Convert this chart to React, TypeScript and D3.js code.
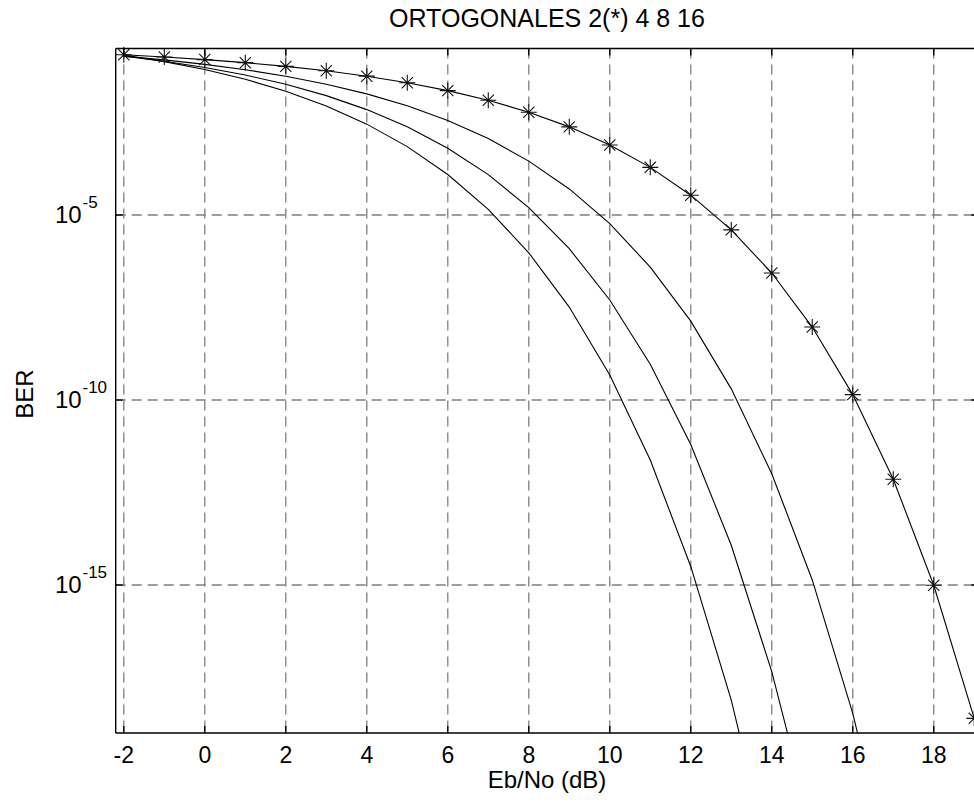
import React from "react";
import * as d3 from "d3";

const TITLE = "ORTOGONALES 2(*) 4 8 16";
const X_LABEL = "Eb/No (dB)";
const Y_LABEL = "BER";

const EBNO = [-2, -1, 0, 1, 2, 3, 4, 5, 6, 7, 8, 9, 10, 11, 12, 13, 14, 15, 16, 17, 18, 19, 20];

const BER_M2 = [2.135e-1, 1.864e-1, 1.587e-1, 1.309e-1, 1.04e-1, 7.89e-2, 5.65e-2, 3.77e-2, 2.3e-2, 1.258e-2, 6.01e-3, 2.41e-3, 7.83e-4, 1.94e-4, 3.43e-5, 3.96e-6, 2.7e-7, 9.36e-9, 1.397e-10, 7.23e-13, 9.84e-16, 2.49e-19, 7.62e-24];
const BER_M4 = [1.961e-1, 1.557e-1, 1.179e-1, 8.45e-2, 5.63e-2, 3.43e-2, 1.875e-2, 8.94e-3, 3.59e-3, 1.16e-3, 2.86e-4, 5.06e-5, 5.82e-6, 3.91e-7, 1.35e-8, 2.0e-10, 1.02e-12, 1.37e-15, 3.4e-19, 1.01e-23];
const BER_M8 = [1.969e-1, 1.432e-1, 9.71e-2, 6.07e-2, 3.41e-2, 1.682e-2, 7.05e-3, 2.415e-3, 6.39e-4, 1.232e-4, 1.586e-5, 1.227e-6, 5.04e-8, 9.29e-10, 6.27e-12, 1.189e-14, 4.58e-18, 2.37e-22];
const BER_M16 = [2.104e-1, 1.4e-1, 8.53e-2, 4.658e-2, 2.213e-2, 8.87e-3, 2.858e-3, 7.04e-4, 1.239e-4, 1.418e-5, 9.51e-7, 3.25e-8, 4.76e-10, 2.4e-12, 3.17e-15, 7.72e-19, 2.25e-23];

const X_TICKS = [-2, 0, 2, 4, 6, 8, 10, 12, 14, 16, 18, 20];
const Y_TICKS = [1e-5, 1e-10, 1e-15];
const Y_TICK_EXP = ["-5", "-10", "-15"];

const W = 974;
const H = 802;
const LEFT = 115.7;
const TOP = 48.5;
const BOTTOM = 733;
const RIGHT = 978.3;
const FONT = "'Liberation Sans', Arial, Helvetica, sans-serif";

export default function App() {
  const x = d3.scaleLinear().domain([-2.2, 19.1]).range([LEFT, RIGHT]);
  const y = d3.scaleLog().domain([1e-19, Math.pow(10, -0.5)]).range([BOTTOM, TOP]);

  const line = d3
    .line<[number, number]>()
    .x((d) => x(d[0]))
    .y((d) => y(d[1]));

  const series = [BER_M2, BER_M4, BER_M8, BER_M16].map((s) =>
    s.map((v, i) => [EBNO[i], v] as [number, number])
  );

  const star = (cx: number, cy: number) => {
    const r = 8;
    const d = 5.6;
    return `M${cx - r},${cy}H${cx + r}M${cx},${cy - r}V${cy + r}M${cx - d},${cy - d}L${cx + d},${cy + d}M${cx - d},${cy + d}L${cx + d},${cy - d}`;
  };

  const xTicks = X_TICKS.filter((t) => x(t) <= W + 20);

  return (
    <svg
      width={W}
      height={H}
      style={{ position: "absolute", left: 0, top: 0, background: "#fff" }}
      fontFamily={FONT}
    >
      <defs>
        <clipPath id="plotclip">
          <rect x={LEFT} y={TOP} width={RIGHT - LEFT} height={BOTTOM - TOP} />
        </clipPath>
      </defs>
      <rect x={0} y={0} width={W} height={H} fill="#fff" />

      {/* grid */}
      <g stroke="#7f7f7f" strokeWidth={1.3} strokeDasharray="10,6" fill="none">
        {xTicks.map((t) => (
          <line key={"gx" + t} x1={x(t)} x2={x(t)} y1={TOP} y2={BOTTOM} />
        ))}
        {Y_TICKS.map((t) => (
          <line key={"gy" + t} x1={LEFT} x2={RIGHT} y1={y(t)} y2={y(t)} />
        ))}
      </g>

      {/* curves */}
      <g clipPath="url(#plotclip)" fill="none" stroke="#000" strokeWidth={1.1}>
        {series.map((s, i) => (
          <path key={"s" + i} d={line(s) || ""} />
        ))}
      </g>

      {/* markers for M=2 */}
      <g fill="none" stroke="#111" strokeWidth={1.1}>
        {series[0]
          .filter((d) => y(d[1]) <= BOTTOM)
          .map((d, i) => (
            <path key={"m" + i} d={star(x(d[0]), y(d[1]))} />
          ))}
      </g>

      {/* axes box */}
      <g stroke="#000" strokeWidth={1.4} fill="none">
        <line x1={LEFT} x2={RIGHT} y1={TOP} y2={TOP} />
        <line x1={LEFT} x2={RIGHT} y1={BOTTOM} y2={BOTTOM} />
        <line x1={LEFT} x2={LEFT} y1={TOP} y2={BOTTOM} />
        <line x1={RIGHT} x2={RIGHT} y1={TOP} y2={BOTTOM} />
        {xTicks.map((t) => (
          <g key={"tx" + t}>
            <line x1={x(t)} x2={x(t)} y1={BOTTOM} y2={BOTTOM - 7} />
            <line x1={x(t)} x2={x(t)} y1={TOP} y2={TOP + 7} />
          </g>
        ))}
        {Y_TICKS.map((t) => (
          <g key={"ty" + t}>
            <line x1={LEFT} x2={LEFT + 7} y1={y(t)} y2={y(t)} />
            <line x1={RIGHT} x2={RIGHT - 7} y1={y(t)} y2={y(t)} />
          </g>
        ))}
      </g>

      {/* x tick labels */}
      <g fontSize={23} textAnchor="middle" fill="#000">
        {xTicks.map((t) => (
          <text key={"lx" + t} x={x(t)} y={763}>
            {String(t)}
          </text>
        ))}
      </g>

      {/* y tick labels */}
      <g fill="#000">
        {Y_TICKS.map((t, i) => (
          <g key={"ly" + t}>
            <text x={81.7} y={y(t) + 8.3} fontSize={24} textAnchor="end">
              10
            </text>
            <text x={82.5} y={y(t) - 7} fontSize={17} textAnchor="start">
              {Y_TICK_EXP[i]}
            </text>
          </g>
        ))}
      </g>

      {/* labels */}
      <text x={547} y={787.5} fontSize={24} textAnchor="middle" fill="#000">
        {X_LABEL}
      </text>
      <text
        transform="translate(33.3,394) rotate(-90)"
        fontSize={24}
        textAnchor="middle"
        fill="#000"
      >
        {Y_LABEL}
      </text>
      <text x={547} y={27.3} fontSize={25} textAnchor="middle" fill="#000">
        {TITLE}
      </text>
    </svg>
  );
}
